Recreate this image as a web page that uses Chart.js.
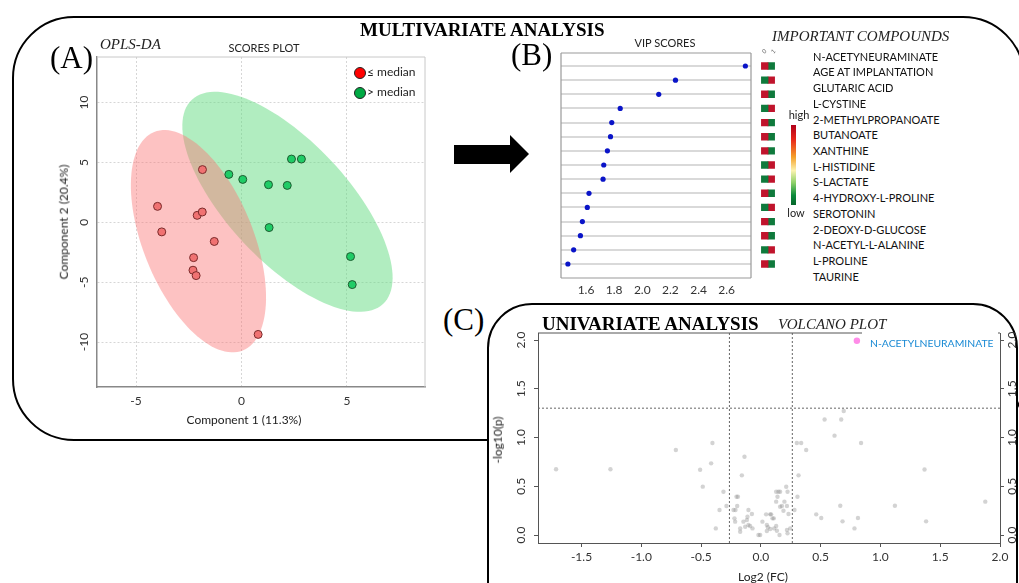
<!DOCTYPE html>
<html>
<head>
<meta charset="utf-8">
<script src="https://cdn.jsdelivr.net/npm/chart.js@4.4.0/dist/chart.umd.min.js"></script>
<style>
body { margin: 0; background: #fff; }
#page { position: relative; width: 1019px; height: 583px; overflow: hidden; font-family: Lato, "Noto Sans", sans-serif; color: #222; }
.t { position: absolute; white-space: nowrap; transform: translate(0, -50%); line-height: 1.2; }
.c { position: absolute; white-space: nowrap; transform: translate(-50%, -50%); line-height: 1.2; }
.r { position: absolute; white-space: nowrap; transform: translate(-50%, -50%) rotate(-90deg); line-height: 1.2; }
.serif { font-family: "Liberation Serif", "DejaVu Serif", serif; color: #000; }
canvas { position: absolute; }
.dot { position: absolute; width: 10px; height: 10px; border-radius: 50%; border: 1px solid #222; transform: translate(-50%, -50%); }
</style>
</head>
<body>
<div id="page">
  <!-- panel frames -->
  <div style="position:absolute;left:12px;top:16px;width:1013px;height:425px;border:2.5px solid #000;border-radius:62px;box-sizing:border-box"></div>
  <div style="position:absolute;left:487px;top:303px;width:531px;height:330px;border:2.5px solid #000;border-radius:45px;box-sizing:border-box;background:#fff"></div>
  <svg style="position:absolute;left:0;top:0" width="1019" height="583">
    <polygon points="454,145 510,145 510,135 529,154 510,173 510,164 454,164" fill="#000"/>
  </svg>

  <canvas id="scoresChart" width="395" height="395" style="left:40px;top:40px"></canvas>
  <canvas id="vipChart" width="240" height="265" style="left:520px;top:40px"></canvas>
  <canvas id="heatChart" width="30" height="265" style="left:753px;top:40px"></canvas>
  <canvas id="volcanoChart" width="529" height="273" style="left:490px;top:310px"></canvas>

  <!-- panel A text -->
  <div class="t serif" style="left:360px;top:30px;font-size:19px;font-weight:bold">MULTIVARIATE ANALYSIS</div>
  <div class="t serif" style="left:50px;top:58px;font-size:31px">(A)</div>
  <div class="t serif" style="left:100px;top:44px;font-size:15px;font-style:italic;color:#222">OPLS-DA</div>
  <div class="c" style="left:264px;top:48px;font-size:11px">SCORES PLOT</div>
  <div class="dot" style="left:360px;top:73px;background:#f00"></div>
  <div class="t" style="left:367px;top:72px;font-size:12px">≤ median</div>
  <div class="dot" style="left:360px;top:93px;background:#0a4"></div>
  <div class="t" style="left:367px;top:92px;font-size:12px">&gt; median</div>
  <div class="c" style="left:244px;top:420px;font-size:12px">Component 1 (11.3%)</div>
  <div class="r" style="left:64px;top:222px;font-size:12px">Component 2 (20.4%)</div>

  <!-- panel B text -->
  <div class="t serif" style="left:511px;top:55px;font-size:31px">(B)</div>
  <div class="c" style="left:665px;top:43px;font-size:11px">VIP SCORES</div>
  <div class="t serif" style="left:772px;top:36px;font-size:15px;font-style:italic;color:#222">IMPORTANT COMPOUNDS</div>
  <div class="c" style="left:764px;top:51px;font-size:6px;color:#555;transform:translate(-50%,-50%) rotate(-45deg)">0</div>
  <div class="c" style="left:773px;top:51px;font-size:6px;color:#555;transform:translate(-50%,-50%) rotate(-45deg)">1</div>
  <div class="c" style="left:799px;top:115px;font-size:11px">high</div>
  <div style="position:absolute;left:791px;top:125px;width:5px;height:80px;background:linear-gradient(#b0001a 0%,#e8261a 18%,#f5a02a 40%,#fbf3b0 57%,#8fd16a 72%,#0a8a3a 88%,#06652b 100%)"></div>
  <div class="c" style="left:796px;top:213px;font-size:11px">low</div>
  <div id="compoundList"></div>

  <!-- panel C text -->
  <div class="t serif" style="left:443px;top:320px;font-size:31px">(C)</div>
  <div class="t serif" style="left:542px;top:324px;font-size:19px;font-weight:bold">UNIVARIATE ANALYSIS</div>
  <div class="t serif" style="left:778px;top:324px;font-size:15px;font-style:italic;color:#222">VOLCANO PLOT</div>
  <div style="position:absolute;left:862px;top:331px;width:136px;height:22px;background:#fff"></div>
  <div class="t" style="left:870px;top:343px;font-size:10.4px;color:#1a8ad4">N-ACETYLNEURAMINATE</div>
  <div class="r" style="left:498px;top:440px;font-size:12px">-log10(p)</div>
  <div class="c" style="left:763px;top:577px;font-size:12px">Log2 (FC)</div>
</div>

<script>
// ---------- data ----------
// (A) OPLS-DA scores
const lowX = [-1.85, -3.98, -2.10, -1.86, -3.78, -1.29, -2.27, -2.30, -2.15, 0.79];
const lowY = [4.40, 1.33, 0.58, 0.86, -0.80, -1.60, -2.95, -4.00, -4.45, -9.36];
const highX = [-0.60, 0.06, 1.28, 2.17, 2.37, 2.84, 1.31, 5.17, 5.25];
const highY = [4.00, 3.58, 3.14, 3.08, 5.28, 5.28, -0.44, -2.86, -5.20];
// confidence ellipses: centre and two semi-axis vectors (data units)
const lowEllipse = { center: [-2.04, -1.58], axisA: [2.10, -9.12], axisB: [2.42, 1.72] };
const highEllipse = { center: [2.18, 1.71], axisA: [4.53, -8.53], axisB: [2.08, 3.41] };
const scoreXTicks = [-5, 0, 5];
const scoreYTicks = [-10, -5, 0, 5, 10];

// (B) VIP scores + heatmap
const compounds = ["N-ACETYNEURAMINATE", "AGE AT IMPLANTATION", "GLUTARIC ACID", "L-CYSTINE",
  "2-METHYLPROPANOATE", "BUTANOATE", "XANTHINE", "L-HISTIDINE", "S-LACTATE", "4-HYDROXY-L-PROLINE",
  "SEROTONIN", "2-DEOXY-D-GLUCOSE", "N-ACETYL-L-ALANINE", "L-PROLINE", "TAURINE"];
const vipScores = [2.733, 2.236, 2.117, 1.843, 1.783, 1.774, 1.752, 1.726, 1.721, 1.621, 1.609, 1.574, 1.560, 1.512, 1.471];
const vipTicks = [1.6, 1.8, 2.0, 2.2, 2.4, 2.6];
const heatCol0 = [1, 0, 1, 0, 1, 1, 1, 0, 0, 1, 0, 1, 1, 0, 1]; // 1 = high, 0 = low
const heatCol1 = [0, 1, 0, 1, 0, 0, 0, 1, 1, 0, 1, 0, 0, 1, 0];

// (C) volcano plot
const log2FC = [-1.713, -1.258, -0.711, -0.405, -0.416, -0.508, -0.486, -0.313, -0.346, -0.288, -0.377,
  -0.137, -0.159, -0.204, -0.192, -0.198, -0.229, -0.212, -0.104, -0.221, -0.215, -0.173, -0.173, -0.117,
  -0.112, -0.075, -0.146, -0.104, -0.090, -0.070, -0.131, -0.020, -0.006, 0.013, 0.044, 0.078, 0.086,
  0.050, 0.059, 0.050, 0.078, 0.097, 0.108, 0.111, 0.128, 0.134, 0.156, 0.128, 0.147, 0.161, 0.139,
  0.128, 0.161, 0.176, 0.189, 0.197, 0.212, 0.223, 0.218, 0.231, 0.245, 0.218, 0.223,
  0.301, 0.337, 0.379, 0.315, 0.306, 0.281, 0.463, 0.505, 0.533, 0.672, 0.693, 0.616, 0.838, 0.664,
  0.683, 0.812, 0.783, 1.121, 1.369, 1.382, 1.877];
const log10P = [0.674, 0.674, 0.872, 0.943, 0.735, 0.670, 0.496, 0.444, 0.256, 0.297, 0.068,
  0.803, 0.612, 0.393, 0.393, 0.297, 0.256, 0.256, 0.256, 0.171, 0.137, 0.068, 0.034, 0.154,
  0.188, 0.215, 0.137, 0.103, 0.092, 0.068, 0.085, 0.000, 0.000, 0.137, 0.212, 0.212, 0.212,
  0.103, 0.079, 0.041, 0.062, 0.171, 0.171, 0.068, 0.092, 0.044, 0.000, 0.444, 0.444, 0.444, 0.393,
  0.342, 0.290, 0.297, 0.249, 0.342, 0.495, 0.444, 0.297, 0.215, 0.068, 0.051, 0.017,
  0.943, 0.943, 0.872, 0.612, 0.393, 0.256, 0.212, 0.175, 1.185, 1.185, 1.272, 1.019, 0.943, 0.300,
  0.140, 0.175, 0.068, 0.300, 0.672, 0.140, 0.342];
const sigFC = [0.803];
const sigP = [1.993];
const fcThreshold = 0.263;
const pThreshold = 1.301;
const volcanoXTicks = [-1.5, -1.0, -0.5, 0.0, 0.5, 1.0, 1.5, 2.0];
const volcanoYTicks = [0.0, 0.5, 1.0, 1.5, 2.0];

// ---------- helpers ----------
Chart.defaults.font.family = 'Lato, "Noto Sans", sans-serif';
Chart.defaults.font.size = 12;
Chart.defaults.color = '#333';
Chart.defaults.animation = false;
Chart.defaults.plugins.legend.display = false;
Chart.defaults.plugins.tooltip.enabled = false;

function fixedTicks(values) {
    return scale => { scale.ticks = values.map(v => ({ value: v })); };
}

const framePlugin = {
    id: 'frame',
    afterDraw(chart, args, opts) {
        const { ctx, chartArea: a } = chart;
        const sides = opts.sides || 'tlbr';
        ctx.save();
        ctx.strokeStyle = opts.color || '#999';
        ctx.lineWidth = opts.width || 1;
        ctx.beginPath();
        if (sides.includes('t')) { ctx.moveTo(a.left, a.top); ctx.lineTo(a.right, a.top); }
        if (sides.includes('b')) { ctx.moveTo(a.left, a.bottom); ctx.lineTo(a.right, a.bottom); }
        if (sides.includes('l')) { ctx.moveTo(a.left, a.top); ctx.lineTo(a.left, a.bottom); }
        if (sides.includes('r')) { ctx.moveTo(a.right, a.top); ctx.lineTo(a.right, a.bottom); }
        ctx.stroke();
        ctx.restore();
    }
};

const ellipsePlugin = {
    id: 'ellipses',
    beforeDatasetsDraw(chart) {
        const { ctx, scales: { x, y } } = chart;
        // green drawn first, red on top gives the brownish overlap
        const list = [[highEllipse, 'rgba(100,220,130,0.5)'], [lowEllipse, 'rgba(250,120,120,0.45)']];
        ctx.save();
        list.forEach(([e, col]) => {
            ctx.beginPath();
            for (let i = 0; i <= 120; i++) {
                const t = i / 120 * Math.PI * 2;
                const dx = e.center[0] + e.axisA[0] * Math.cos(t) + e.axisB[0] * Math.sin(t);
                const dy = e.center[1] + e.axisA[1] * Math.cos(t) + e.axisB[1] * Math.sin(t);
                const px = x.getPixelForValue(dx);
                const py = y.getPixelForValue(dy);
                if (i === 0) ctx.moveTo(px, py); else ctx.lineTo(px, py);
            }
            ctx.closePath();
            ctx.fillStyle = col;
            ctx.fill();
        });
        ctx.restore();
    }
};

// ---------- (A) scores plot ----------
new Chart(document.getElementById('scoresChart'), {
    type: 'scatter',
    data: {
        datasets: [
            {
                data: lowX.map((v, i) => ({ x: v, y: lowY[i] })),
                backgroundColor: '#f07272', borderColor: '#7a2a2a', borderWidth: 1, pointRadius: 4
            },
            {
                data: highX.map((v, i) => ({ x: v, y: highY[i] })),
                backgroundColor: '#1fcc66', borderColor: '#1d5c30', borderWidth: 1, pointRadius: 4
            }
        ]
    },
    options: {
        responsive: false,
        layout: { padding: { top: 17, right: 10, left: 0, bottom: 0 } },
        scales: {
            x: {
                min: -6.85, max: 8.7,
                afterBuildTicks: fixedTicks(scoreXTicks),
                afterFit: s => { s.height = 48; },
                grid: { color: '#d6d6d6', drawTicks: false },
                border: { color: '#888', width: 1.5, dash: [2, 2] },
                ticks: { padding: 7, color: '#333' }
            },
            y: {
                min: -13.75, max: 13.8,
                afterBuildTicks: fixedTicks(scoreYTicks),
                afterFit: s => { s.width = 57; },
                grid: { color: '#d6d6d6', drawTicks: false },
                border: { color: '#888', width: 1.5, dash: [2, 2] },
                ticks: { padding: 3.5, minRotation: 90, maxRotation: 90, crossAlign: 'center', color: '#333' }
            }
        },
        plugins: { frame: { color: '#c8c8c8', width: 1, sides: 'tr' } }
    },
    plugins: [ellipsePlugin, framePlugin]
});

// ---------- (B) VIP scores ----------
const rows = compounds.map((c, i) => i + 1);
new Chart(document.getElementById('vipChart'), {
    type: 'scatter',
    data: {
        datasets: [{
            data: vipScores.map((v, i) => ({ x: v, y: rows[i] })),
            backgroundColor: '#0a14c8', borderWidth: 0, pointRadius: 2.6
        }]
    },
    options: {
        responsive: false,
        layout: { padding: { top: 13, right: 9, left: 0, bottom: 0 } },
        scales: {
            x: {
                min: 1.422, max: 2.773,
                afterBuildTicks: fixedTicks(vipTicks),
                afterFit: s => { s.height = 27; },
                grid: { display: false, drawTicks: false },
                border: { display: false },
                ticks: { padding: 5, color: '#333', callback: v => v.toFixed(1) }
            },
            y: {
                min: 0.08, max: 15.99, reverse: true,
                afterBuildTicks: fixedTicks(rows),
                afterFit: s => { s.width = 41; },
                grid: { color: '#d9d9d9', lineWidth: 2, drawTicks: false },
                border: { display: false },
                ticks: { display: false }
            }
        },
        plugins: { frame: { color: '#9a9a9a', width: 1.2 } }
    },
    plugins: [framePlugin]
});

// heatmap beside the VIP plot
const heatColor = v => v ? '#c0142c' : '#0f7a3c';
new Chart(document.getElementById('heatChart'), {
    type: 'scatter',
    data: {
        datasets: [
            {
                data: heatCol0.map((v, i) => ({ x: 1, y: rows[i] })),
                backgroundColor: heatCol0.map(heatColor), pointStyle: 'rect', pointRadius: 5.2, borderWidth: 0
            },
            {
                data: heatCol1.map((v, i) => ({ x: 2, y: rows[i] })),
                backgroundColor: heatCol1.map(heatColor), pointStyle: 'rect', pointRadius: 5.2, borderWidth: 0
            }
        ]
    },
    options: {
        responsive: false,
        layout: { padding: { top: 13, bottom: 27, left: 0, right: 0 } },
        scales: {
            x: { display: false, min: 0, max: 3 },
            y: { display: false, min: 0.08, max: 15.99, reverse: true }
        }
    }
});

// compound names
const list = document.getElementById('compoundList');
compounds.forEach((name, i) => {
    const d = document.createElement('div');
    d.className = 't';
    d.style.left = '813px';
    d.style.top = (56.7 + i * 15.72) + 'px';
    d.style.fontSize = '11px';
    d.style.color = '#111';
    d.textContent = name;
    list.appendChild(d);
});

// ---------- (C) volcano plot ----------
const vxMin = -1.864, vxMax = 2.0, vyMin = -0.082, vyMax = 2.072;
const thresholdStyle = { showLine: true, borderColor: '#666', borderWidth: 1, borderDash: [2, 2], pointRadius: 0, fill: false };
new Chart(document.getElementById('volcanoChart'), {
    type: 'scatter',
    data: {
        datasets: [
            Object.assign({ data: [{ x: -fcThreshold, y: vyMin }, { x: -fcThreshold, y: vyMax }] }, thresholdStyle),
            Object.assign({ data: [{ x: fcThreshold, y: vyMin }, { x: fcThreshold, y: vyMax }] }, thresholdStyle),
            Object.assign({ data: [{ x: vxMin, y: pThreshold }, { x: vxMax, y: pThreshold }] }, thresholdStyle),
            {
                data: log2FC.map((v, i) => ({ x: v, y: log10P[i] })),
                backgroundColor: 'rgba(140,140,140,0.38)', borderWidth: 0, pointRadius: 2.2
            },
            {
                data: sigFC.map((v, i) => ({ x: v, y: sigP[i] })),
                backgroundColor: '#ff8ce8', borderWidth: 0, pointRadius: 3.2
            }
        ]
    },
    options: {
        responsive: false,
        layout: { padding: { top: 23, right: 0, left: 0, bottom: 0 } },
        scales: {
            x: {
                min: vxMin, max: vxMax,
                afterBuildTicks: fixedTicks(volcanoXTicks),
                afterFit: s => { s.height = 40; },
                grid: { drawOnChartArea: false, tickLength: 4, color: '#555' },
                border: { color: '#555', width: 1 },
                ticks: { padding: 3, color: '#333', callback: v => v.toFixed(1) }
            },
            y: {
                min: vyMin, max: vyMax,
                afterBuildTicks: fixedTicks(volcanoYTicks),
                afterFit: s => { s.width = 48; },
                grid: { drawOnChartArea: false, tickLength: 4, color: '#555' },
                border: { color: '#555', width: 1 },
                ticks: { padding: 4, minRotation: 90, maxRotation: 90, crossAlign: 'center', color: '#333', callback: v => v.toFixed(1) }
            },
            y2: {
                position: 'right',
                min: vyMin, max: vyMax,
                afterBuildTicks: fixedTicks(volcanoYTicks),
                afterFit: s => { s.width = 19; },
                grid: { drawOnChartArea: false, tickLength: 4, color: '#555' },
                border: { color: '#555', width: 1 },
                ticks: { padding: 0, minRotation: 90, maxRotation: 90, crossAlign: 'center', color: '#333', callback: v => v.toFixed(1) }
            }
        },
        plugins: { frame: { color: '#555', width: 1, sides: 't' } }
    },
    plugins: [framePlugin]
});
</script>
</body>
</html>
